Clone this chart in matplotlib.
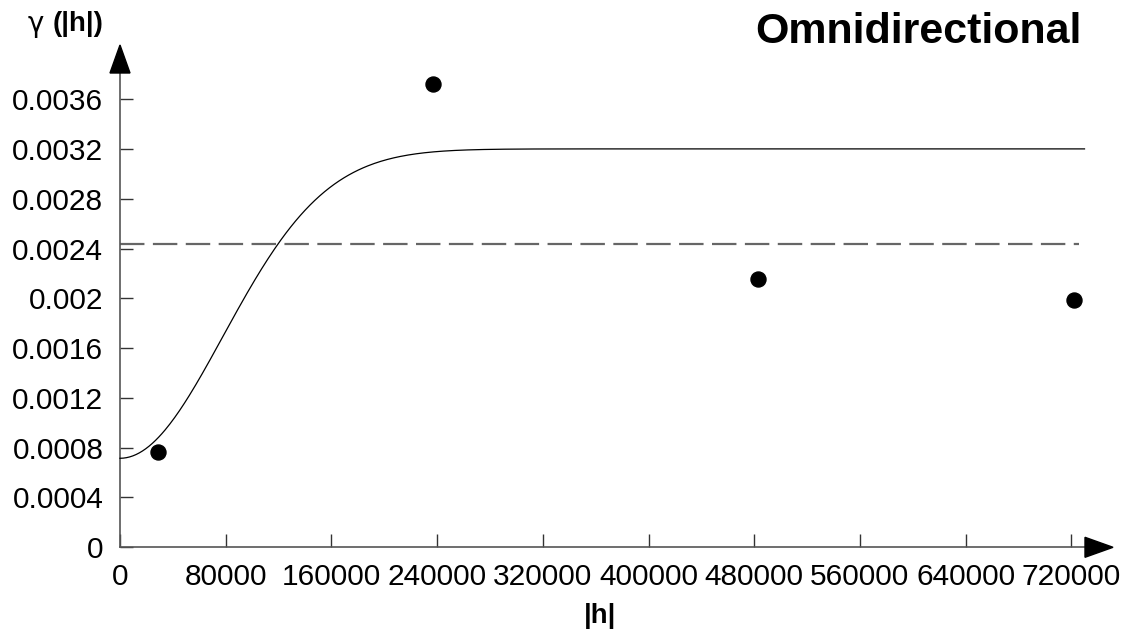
import numpy as np
import matplotlib
matplotlib.use("Agg")
import matplotlib.pyplot as plt
from matplotlib.patches import Polygon

# ---- data ----
lag_h = [28400, 236900, 482700, 722300]           # experimental lags |h|
gamma_exp = [0.000768, 0.003719, 0.002153, 0.001989]  # experimental semivariance
sample_variance = 0.00244                            # dashed reference line

# fitted Gaussian variogram model parameters
nugget = 0.000715
sill = 0.0032
model_range = 190700
model_hmax = 730000

x_ticks = [0, 80000, 160000, 240000, 320000, 400000, 480000, 560000, 640000, 720000]
x_ticklabels = ["0", "80000", "160000", "240000", "320000", "400000", "480000",
                "560000", "640000", "720000"]
y_ticks = [0, 0.0004, 0.0008, 0.0012, 0.0016, 0.002, 0.0024, 0.0028, 0.0032, 0.0036]
y_ticklabels = ["0", "0.0004", "0.0008", "0.0012", "0.0016", "0.002", "0.0024",
                "0.0028", "0.0032", "0.0036"]

title = "Omnidirectional"
xlabel = "|h|"

plt.rcParams['font.family'] = ['Liberation Sans', 'DejaVu Sans']

W, H = 1129, 635
fig = plt.figure(figsize=(W / 100, H / 100), dpi=100)

# axes placement in pixels
x0_px, y0_px = 120, 547.3           # origin (from top)
px_per_x = 105.7 / 80000
px_per_y = 49.8 / 0.0004
right_px, top_px = 1129, 45
xmax = (right_px - x0_px) / px_per_x
ymax = (y0_px - top_px) / px_per_y

ax = fig.add_axes([x0_px / W, (H - y0_px) / H, (right_px - x0_px) / W, (y0_px - top_px) / H])
ax.set_xlim(0, xmax)
ax.set_ylim(0, ymax)
ax.patch.set_alpha(0)

for s in ["top", "right"]:
    ax.spines[s].set_visible(False)
axis_col = "#555555"
for s in ["left", "bottom"]:
    ax.spines[s].set_color(axis_col)
    ax.spines[s].set_linewidth(1.2)
ax.spines["left"].set_bounds(0, (y0_px - 73) / px_per_y)
ax.spines["bottom"].set_bounds(0, (1085 - x0_px) / px_per_x)

ax.set_xticks(x_ticks)
ax.set_xticklabels(x_ticklabels)
ax.set_yticks(y_ticks)
ax.set_yticklabels(y_ticklabels)
ax.tick_params(direction="in", length=9.4, width=1.0, color="#333333",
               labelsize=21.5, labelcolor="black")
ax.tick_params(axis="y", pad=12)
ax.tick_params(axis="x", pad=11)

# model curve
h = np.linspace(0, model_hmax, 600)
gam = nugget + (sill - nugget) * (1 - np.exp(-3 * (h / model_range) ** 2))
ax.plot(h, gam, color="black", lw=0.9, clip_on=False, zorder=3)

# dashed sample variance line
ax.plot([0, (1079 - x0_px) / px_per_x], [sample_variance, sample_variance],
        color="#666666", lw=1.6, dashes=(11, 3.8), clip_on=False, zorder=2)

# experimental points
ax.plot(lag_h, gamma_exp, "o", color="black", ms=10.8, clip_on=False, zorder=4)

# arrows (display pixel coordinates, origin bottom-left)
def P(x, y_from_top):
    return (x, H - y_from_top)

ax_arrow = Polygon([P(110, 73), P(130, 73), P(120, 45)], closed=True,
                   facecolor="black", edgecolor="black", transform=None, clip_on=False)
fig.patches.append(ax_arrow)
ax_arrow2 = Polygon([P(1085, 537.3), P(1085, 557.3), P(1113, 547.3)], closed=True,
                    facecolor="black", edgecolor="black", transform=None, clip_on=False)
fig.patches.append(ax_arrow2)

# texts
fig.text(1082 / W, 1 - 32 / H, title, ha="right", va="center",
         fontsize=31, fontweight="bold")
fig.text(600 / W, 1 - 616 / H, xlabel, ha="center", va="center",
         fontsize=20, fontweight="bold")
fig.text(44 / W, 1 - 24 / H, "γ", ha="right", va="center", fontsize=20,
         family=['DejaVu Sans'])
fig.text(104 / W, 1 - 24 / H, "(|h|)", ha="right", va="center", fontsize=20,
         fontweight="bold")

fig.savefig("out.png", dpi=100)
